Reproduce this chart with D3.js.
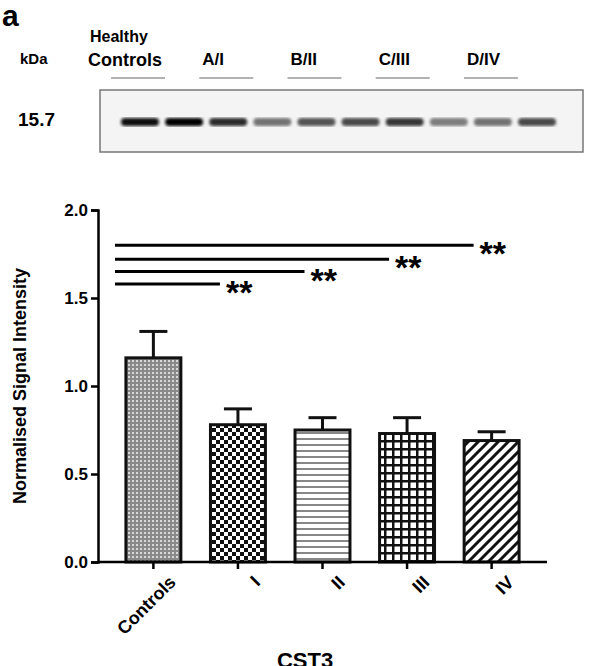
<!DOCTYPE html>
<html><head><meta charset="utf-8">
<script src="https://cdn.jsdelivr.net/npm/d3@7"></script>
<style>body{margin:0;background:#fff}text{font-family:Arial,"Liberation Sans",sans-serif}</style>
</head><body><svg></svg>
<script>
const W = 591, H = 666;
const categories = ["Controls", "I", "II", "III", "IV"];
const means = [1.16, 0.78, 0.75, 0.73, 0.69];
const sems = [0.15, 0.09, 0.07, 0.09, 0.05];
const yTicks = [0.0, 0.5, 1.0, 1.5, 2.0];
const sigLevels = [1.80, 1.72, 1.65, 1.58];
const sigTo = ["IV", "III", "II", "I"];
const groupLabels = ["A/I", "B/II", "C/III", "D/IV"];
const bandIntensity = [0.95, 1.0, 0.8, 0.45, 0.6, 0.65, 0.75, 0.4, 0.45, 0.65];

const svg = d3.select("svg").attr("width", W).attr("height", H);
const defs = svg.append("defs");

function pat(id, w, h, draw) {
  const p = defs.append("pattern").attr("id", id).attr("patternUnits", "userSpaceOnUse")
    .attr("width", w).attr("height", h);
  draw(p);
}
pat("p0", 4, 4, p => {
  p.append("rect").attr("width", 4).attr("height", 4).attr("fill", "#8a8a8a");
  p.append("rect").attr("width", 2).attr("height", 2).attr("fill", "#d8d8d8");
});
pat("p1", 8, 8, p => {
  p.append("rect").attr("width", 8).attr("height", 8).attr("fill", "#fff");
  p.append("rect").attr("width", 4).attr("height", 4).attr("fill", "#111");
  p.append("rect").attr("x", 4).attr("y", 4).attr("width", 4).attr("height", 4).attr("fill", "#111");
});
pat("p2", 6, 6, p => {
  p.append("rect").attr("width", 6).attr("height", 6).attr("fill", "#fff");
  p.append("rect").attr("width", 6).attr("height", 2).attr("fill", "#888");
});
pat("p3", 8, 8, p => {
  p.append("rect").attr("width", 8).attr("height", 8).attr("fill", "#fff");
  p.append("rect").attr("width", 8).attr("height", 2.5).attr("fill", "#111");
  p.append("rect").attr("width", 2.5).attr("height", 8).attr("fill", "#111");
});
pat("p4", 10, 10, p => {
  p.append("rect").attr("width", 10).attr("height", 10).attr("fill", "#fff");
  p.append("path").attr("d", "M-2,12 L12,-2 M-7,7 L7,-7 M3,17 L17,3").attr("stroke", "#111").attr("stroke-width", 3);
});

// panel letter and blot
svg.append("text").attr("x", 2).attr("y", 26).attr("font-size", 30).attr("font-weight", "bold").text("a");
svg.append("text").attr("x", 20).attr("y", 64).attr("font-size", 15).attr("font-weight", "bold").text("kDa");
svg.append("text").attr("x", 18).attr("y", 126).attr("font-size", 19).attr("font-weight", "bold").text("15.7");
svg.append("text").attr("x", 90).attr("y", 42).attr("font-size", 16).attr("font-weight", "bold").text("Healthy");
svg.append("text").attr("x", 88).attr("y", 66).attr("font-size", 18).attr("font-weight", "bold").text("Controls");

const lane = d3.scaleLinear().domain([0, 9]).range([140, 537]);
const hdr = [[0, 1], [2, 3], [4, 5], [6, 7], [8, 9]];
hdr.forEach(([a, b], i) => {
  const mid = (lane(a) + lane(b)) / 2 - 24;
  svg.append("line").attr("x1", mid - 27).attr("x2", mid + 27)
    .attr("y1", 78).attr("y2", 78).attr("stroke", "#666").attr("stroke-width", 1.2);
  if (i > 0) svg.append("text").attr("x", mid - 24).attr("y", 65).attr("font-size", 17)
    .attr("font-weight", "bold").text(groupLabels[i - 1]);
});
svg.append("rect").attr("x", 100).attr("y", 90).attr("width", 483).attr("height", 62)
  .attr("fill", "#f4f4f4").attr("stroke", "#777").attr("stroke-width", 1.5);
const blur = defs.append("filter").attr("id", "bl");
blur.append("feGaussianBlur").attr("stdDeviation", 1.8);
const gray = d3.interpolateRgb("#d0d0d0", "#000");
bandIntensity.forEach((v, i) => {
  svg.append("rect").attr("x", lane(i) - 19).attr("y", 118).attr("width", 38).attr("height", 8)
    .attr("rx", 4).attr("fill", gray(v)).attr("filter", "url(#bl)");
});

// bar chart
const x = d3.scaleBand().domain(categories).range([98, 547]).paddingInner(0.35).paddingOuter(0.33);
const y = d3.scaleLinear().domain([0, 2]).range([562, 210]);

const g = svg.append("g");
categories.forEach((c, i) => {
  const cx = x(c) + x.bandwidth() / 2;
  g.append("line").attr("x1", cx).attr("x2", cx).attr("y1", y(means[i])).attr("y2", y(means[i] + sems[i]))
    .attr("stroke", "#111").attr("stroke-width", 3);
  g.append("line").attr("x1", cx - 14).attr("x2", cx + 14).attr("y1", y(means[i] + sems[i])).attr("y2", y(means[i] + sems[i]))
    .attr("stroke", "#111").attr("stroke-width", 3);
  g.append("rect").attr("x", x(c)).attr("y", y(means[i])).attr("width", x.bandwidth())
    .attr("height", y(0) - y(means[i])).attr("fill", `url(#p${i})`).attr("stroke", "#111").attr("stroke-width", 3);
});

const yAxis = svg.append("g").attr("transform", "translate(98,0)")
  .call(d3.axisLeft(y).tickValues(yTicks).tickFormat(d3.format(".1f")).tickSize(7));
yAxis.select(".domain").attr("stroke-width", 2.5);
yAxis.selectAll(".tick line").attr("stroke-width", 2.5);
yAxis.selectAll("text").attr("font-size", 17).attr("font-weight", "bold").attr("fill", "#000");

const xAxis = svg.append("g").attr("transform", "translate(0,562)")
  .call(d3.axisBottom(x).tickSize(7).tickSizeOuter(0));
xAxis.select(".domain").attr("stroke-width", 2.5).attr("d", "M98,0H547");
xAxis.selectAll(".tick line").attr("stroke-width", 2.5);
xAxis.selectAll("text").attr("font-size", 18).attr("font-weight", "bold").attr("fill", "#000")
  .attr("text-anchor", "end").attr("transform", "translate(10,8) rotate(-45)").attr("dy", "0.5em");

svg.append("text").attr("transform", "translate(26,386) rotate(-90)").attr("text-anchor", "middle")
  .attr("font-size", 18).attr("font-weight", "bold").text("Normalised Signal Intensity");

sigLevels.forEach((v, i) => {
  const x2 = x(sigTo[i]) + x.bandwidth() / 2 - 18;
  svg.append("line").attr("x1", 115).attr("x2", x2).attr("y1", y(v)).attr("y2", y(v))
    .attr("stroke", "#000").attr("stroke-width", 3);
  svg.append("text").attr("x", x2 + 6).attr("y", y(v) + 20).attr("font-size", 34).attr("font-weight", "bold").text("**");
});

svg.append("text").attr("x", 305).attr("y", 668).attr("text-anchor", "middle").attr("font-size", 22)
  .attr("font-weight", "bold").attr("font-family", "'Open Sans',sans-serif").text("CST3");
</script></body></html>
